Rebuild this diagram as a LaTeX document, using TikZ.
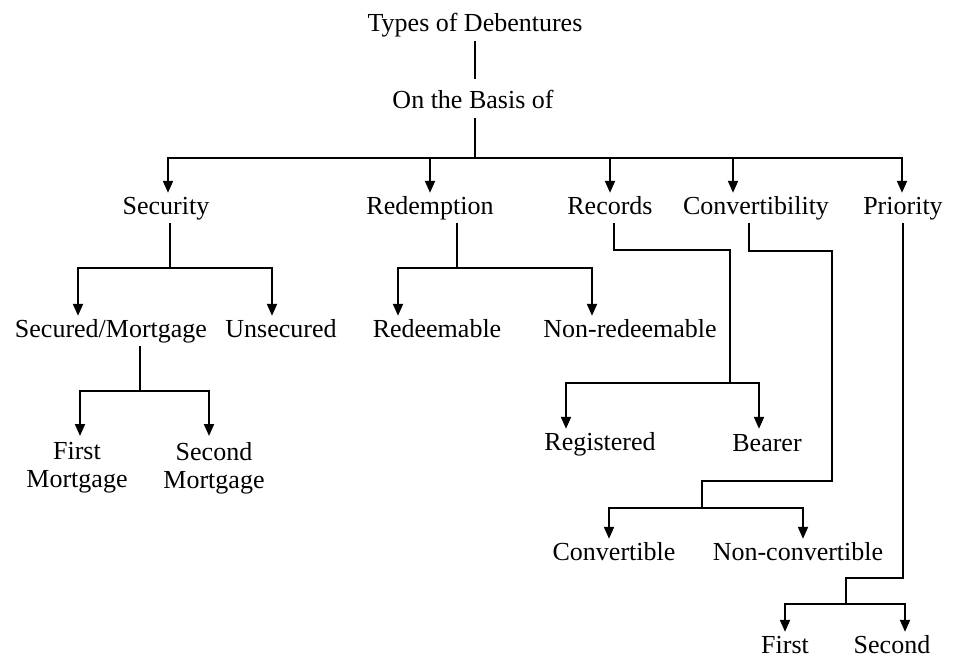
\documentclass[tikz,border=0pt]{standalone}
\usepackage{fontspec}
\setmainfont{Liberation Serif}
\usetikzlibrary{arrows.meta}
\begin{document}
\begin{tikzpicture}[x=1pt,y=-1pt,
  lbl/.style={anchor=base, inner sep=3pt, text height=18pt, text depth=6pt, font=\fontsize{26}{28}\selectfont},
  ml/.style={anchor=north, inner sep=3pt, align=center, font=\fontsize{26}{28}\selectfont},
  conn/.style={line width=2pt},
  arr/.style={conn, -{Triangle[length=12pt,width=10pt]}}]
\useasboundingbox (0,0) rectangle (953,658);
% nodes
\node[lbl] (types) at (475,32) {Types of Debentures};
\node[lbl] (basis) at (473,109) {On the Basis of};
\node[lbl] (sec) at (166,214) {Security};
\node[lbl] (red) at (430,214) {Redemption};
\node[lbl] (rec) at (610,214) {Records};
\node[lbl] (conv) at (756,214) {Convertibility};
\node[lbl] (prio) at (903,214) {Priority};
\node[lbl] (secm) at (111,337) {Secured/Mortgage};
\node[lbl] (unsec) at (281,337) {Unsecured};
\node[lbl] (redm) at (437,337) {Redeemable};
\node[lbl] (nonred) at (630,337) {Non-redeemable};
\node[lbl] (reg) at (600,450) {Registered};
\node[lbl] (bear) at (767,451) {Bearer};
\node[lbl] (cvt) at (614,560) {Convertible};
\node[lbl] (ncvt) at (798,560) {Non-convertible};
\node[lbl] (first) at (785,653) {First};
\node[lbl] (second) at (892,653) {Second};
\node[ml] (fm) at (77,439) {First\\Mortgage};
\node[ml] (sm) at (214,439) {Second\\Mortgage};
% junctions
\coordinate (jb) at (475,158);
\coordinate (js) at (170,268);
\coordinate (jr) at (457,268);
\coordinate (recb) at (730,250);
\coordinate (jrec) at (730,383);
\coordinate (cb1) at (832,251);
\coordinate (cb2) at (702,481);
\coordinate (jconv) at (702,508);
\coordinate (pb) at (846,578);
\coordinate (jprio) at (846,604);
\coordinate (jsm) at (140,391);
% level 1
\draw[conn, shorten >=9pt] (types.south) -- (types.south |- basis.north);
\draw[conn] (types.south |- basis.south) -- (jb);
\draw[arr] (jb) -| ([xshift=2pt]sec.north);
\draw[arr] (jb) -| (red.north);
\draw[arr] (jb) -| (rec.north);
\draw[arr] (jb) -| ([xshift=-23pt]conv.north);
\draw[arr] (jb) -| ([xshift=-1pt]prio.north);
% security
\draw[conn] ([xshift=4pt]sec.south) -- (js);
\draw[arr] (js) -| ([xshift=-33pt]secm.north);
\draw[arr] (js) -| ([xshift=-9pt]unsec.north);
% secured/mortgage
\draw[conn] ([xshift=29pt]secm.south) -- (jsm);
\draw[arr] (jsm) -| ([xshift=3pt,yshift=3pt]fm.north);
\draw[arr] (jsm) -| ([xshift=-5pt,yshift=3pt]sm.north);
% redemption
\draw[conn] ([xshift=27pt]red.south) -- (jr);
\draw[arr] (jr) -| ([xshift=-39pt]redm.north);
\draw[arr] (jr) -| ([xshift=-38pt]nonred.north);
% records
\draw[conn] ([xshift=4pt]rec.south) |- (recb) -- (jrec);
\draw[arr] (jrec) -| ([xshift=-34pt]reg.north);
\draw[arr] (jrec) -| ([xshift=-8pt,yshift=1pt]bear.north);
% convertibility
\draw[conn] ([xshift=-7pt]conv.south) |- (cb1) |- (cb2) -- (jconv);
\draw[arr] (jconv) -| ([xshift=-5pt]cvt.north);
\draw[arr] (jconv) -| ([xshift=5pt]ncvt.north);
% priority
\draw[conn] (prio.south) |- (pb) -- (jprio);
\draw[arr] (jprio) -| (first.north);
\draw[arr] (jprio) -| ([xshift=13pt]second.north);
\end{tikzpicture}
\end{document}
